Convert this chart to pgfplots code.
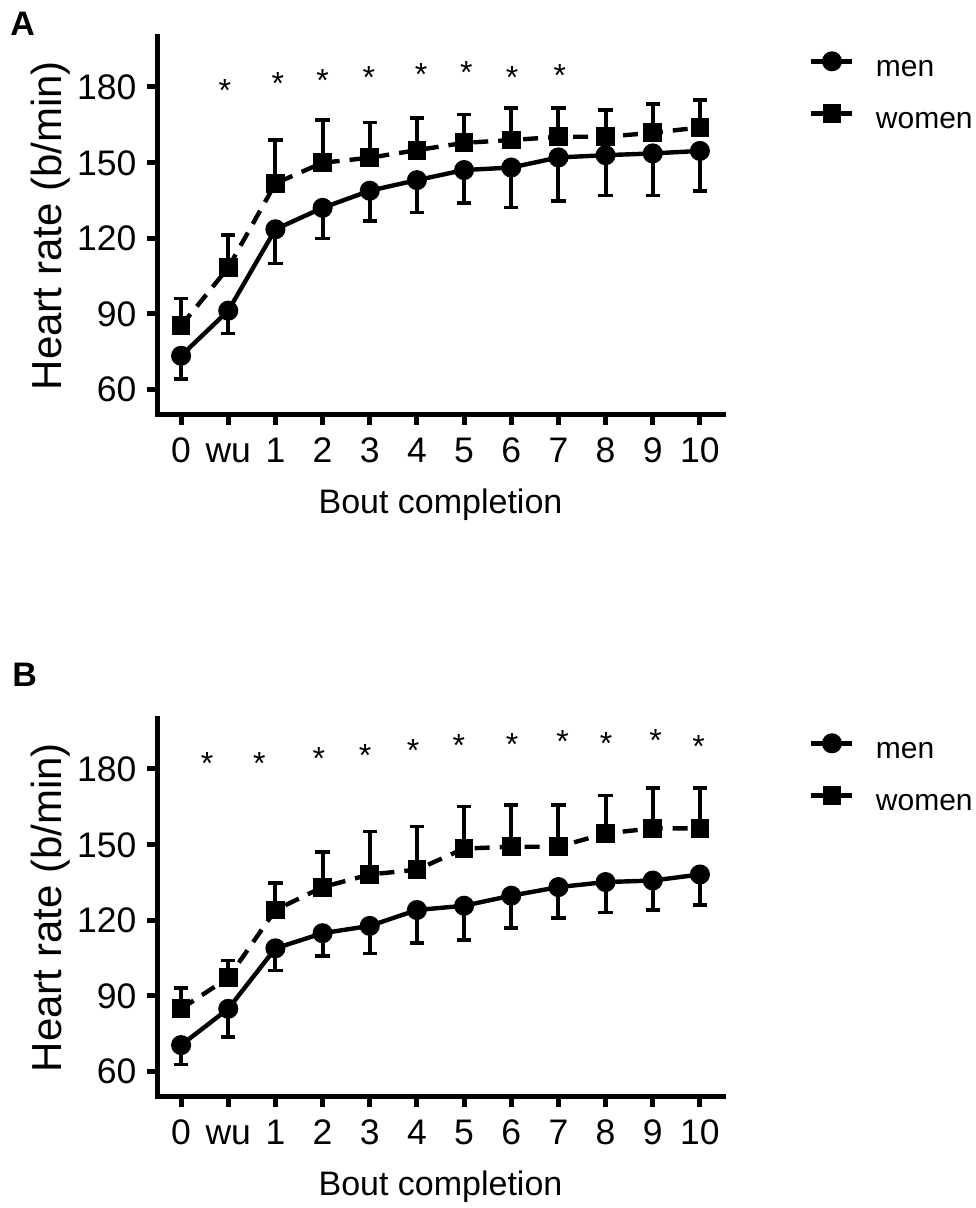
\documentclass[border=0pt]{standalone}
\usepackage{fontspec}
\setmainfont{Liberation Sans}
\usepackage{pgfplots}
\pgfplotsset{compat=1.18}

\pgfplotsset{
  prism/.style={
    scale only axis,
    width=283pt, height=189pt,
    xmin=-0.5, xmax=11.5, ymin=50, ymax=200,
    axis x line*=bottom, axis y line*=left,
    axis line style={line width=2.25pt, line cap=rect},
    tick style={line width=2.5pt, black},
    major tick length=5pt, tick align=outside,
    xtick={0,...,11},
    xticklabels={0,wu,1,2,3,4,5,6,7,8,9,10},
    ytick={60,90,120,150,180},
    /pgf/number format/assume math mode=true,
    ticklabel style={font=\fontsize{17.75}{20}\selectfont, inner sep=0pt, text height=12.6pt, text depth=0pt},
    xticklabel style={yshift=-6pt},
    yticklabel style={xshift=-5.4pt},
    xlabel={Bout completion},
    ylabel={Heart rate (b/min)},
    xlabel style={font=\fontsize{17}{20}\selectfont, at={(axis description cs:0.5,-0.261)}, anchor=base, inner sep=0pt},
    ylabel style={font=\fontsize{21}{24}\selectfont, at={(axis description cs:-0.188,0.5)}, anchor=center, inner sep=0pt},
    clip=false,
    legend style={
      at={(axis description cs:1.151,0.955)}, anchor=north west,
      draw=none, fill=none, inner sep=0pt, outer sep=0pt,
      font=\fontsize{15}{18}\selectfont,
      row sep=11.85pt,
      nodes={inner sep=0pt, text height=11pt, text depth=3pt},
      /tikz/every odd column/.append style={column sep=10.5pt},
    },
    legend cell align=left,
    legend image code/.code={
      \draw[#1, solid, line width=2.5pt] (0pt,3.6pt) -- (20.5pt,3.6pt);
      \draw[#1, solid] plot coordinates {(10.25pt,3.6pt)};
    },
  },
  men/.style={black, line width=2.2pt, mark=*, mark size=3.9pt,
    error bars/.cd, y dir=minus, y explicit, error mark=-,
    error bar style={line width=2pt, solid},
    error mark options={line width=1.8pt, mark size=3.6pt, solid, rotate=90}},
  women/.style={black, line width=2.2pt, dash pattern=on 7.5pt off 5pt,
    mark=square*, mark size=3.6pt, mark options={solid},
    error bars/.cd, y dir=plus, y explicit, error mark=-,
    error bar style={line width=2pt, solid},
    error mark options={line width=1.8pt, mark size=3.6pt, solid, rotate=90}},
  stars/.style={draw=none, mark=none, nodes near coords={*},
    every node near coord/.append style={font=\fontsize{16}{18}\selectfont, anchor=center, inner sep=0pt, yshift=-0.215em}},
}

\begin{document}
\begin{tikzpicture}
\path[use as bounding box] (0,0) rectangle (487.5pt,-604pt);

\node[anchor=base west, inner sep=0pt, font=\fontsize{17}{19}\selectfont\bfseries] at (5pt,-18pt) {A};
\node[anchor=base west, inner sep=0pt, font=\fontsize{17}{19}\selectfont\bfseries] at (6pt,-343pt) {B};

% Panel A
\begin{axis}[prism, at={(78.75pt,-207.25pt)}, anchor=south west]
\addplot[men] coordinates {
 (0,73.3) +- (0,9.2)
 (1,91.2) +- (0,9.0)
 (2,123.5) +- (0,13.5)
 (3,132.0) +- (0,12.1)
 (4,138.8) +- (0,11.9)
 (5,143.0) +- (0,12.8)
 (6,147.0) +- (0,13.0)
 (7,148.0) +- (0,15.8)
 (8,152.0) +- (0,17.2)
 (9,152.9) +- (0,16.0)
 (10,153.6) +- (0,16.7)
 (11,154.6) +- (0,15.8)
};
\addlegendentry{men}
\addplot[women] coordinates {
 (0,85.2) +- (0,10.9)
 (1,108.3) +- (0,12.9)
 (2,141.7) +- (0,17.2)
 (3,149.9) +- (0,16.9)
 (4,151.9) +- (0,14.0)
 (5,154.9) +- (0,12.8)
 (6,157.8) +- (0,11.2)
 (7,158.9) +- (0,12.8)
 (8,160.2) +- (0,11.5)
 (9,160.2) +- (0,10.6)
 (10,161.8) +- (0,11.3)
 (11,163.9) +- (0,10.8)
};
\addlegendentry{women}
\addplot[stars, forget plot] coordinates {
 (0.93,180.3) (2.05,183.0) (3.0,184.2) (3.98,185.5) (5.09,186.6) (6.05,187.3) (7.02,185.5) (8.03,186.3)
};
\end{axis}

% Panel B
\begin{axis}[prism, at={(78.75pt,-548.25pt)}, anchor=south west]
\addplot[men] coordinates {
 (0,70.4) +- (0,7.7)
 (1,84.8) +- (0,11.1)
 (2,108.8) +- (0,8.8)
 (3,114.8) +- (0,9.1)
 (4,117.7) +- (0,10.9)
 (5,124.0) +- (0,13.2)
 (6,125.7) +- (0,13.7)
 (7,129.7) +- (0,12.9)
 (8,133.1) +- (0,12.3)
 (9,135.1) +- (0,12.0)
 (10,135.7) +- (0,11.7)
 (11,138.1) +- (0,12.0)
};
\addlegendentry{men}
\addplot[women] coordinates {
 (0,84.8) +- (0,8.3)
 (1,97.1) +- (0,6.9)
 (2,124.0) +- (0,10.7)
 (3,133.1) +- (0,14.0)
 (4,138.1) +- (0,17.0)
 (5,140.0) +- (0,17.1)
 (6,148.4) +- (0,16.7)
 (7,149.1) +- (0,16.6)
 (8,149.1) +- (0,16.6)
 (9,154.4) +- (0,15.1)
 (10,156.4) +- (0,16.0)
 (11,156.4) +- (0,16.0)
};
\addlegendentry{women}
\addplot[stars, forget plot] coordinates {
 (0.55,183.7) (1.66,184.0) (2.92,185.7) (3.9,187.1) (4.92,189.1) (5.89,191.1) (7.02,191.5) (8.09,192.4) (9.01,191.7) (10.06,193.1) (10.97,190.7)
};
\end{axis}
\end{tikzpicture}
\end{document}
